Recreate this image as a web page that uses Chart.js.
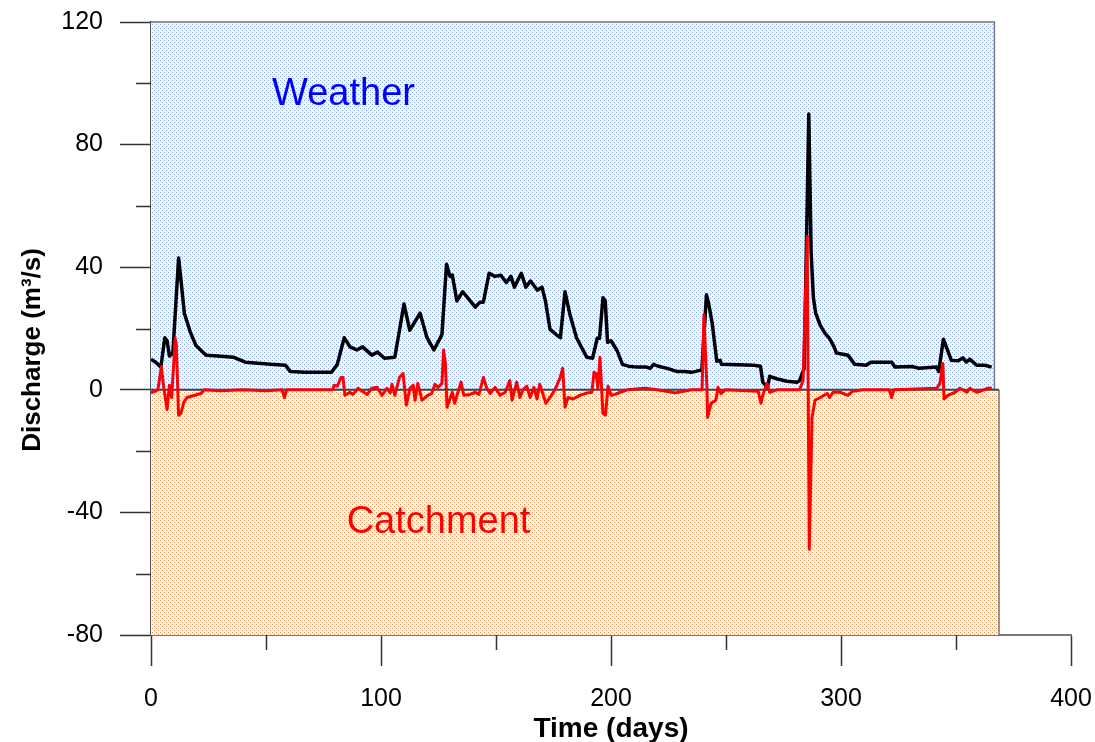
<!DOCTYPE html>
<html>
<head>
<meta charset="utf-8">
<title>Discharge</title>
<script src="https://cdn.jsdelivr.net/npm/chart.js@4.4.0/dist/chart.umd.min.js"></script>
<style>
  html, body { margin: 0; padding: 0; background: #fff; }
  canvas { display: block; }
</style>
</head>
<body>
<canvas id="myChart" width="1095" height="742"></canvas>
<script>
// weather-driven discharge (black)
const weatherDays = [0, 2, 4.3, 6, 7, 8, 9.5, 12, 13, 14.5, 17, 19.5, 22.5, 24, 29, 36, 41, 48, 52, 58.5, 60.5, 67, 78.5, 81,
  84, 86.5, 89.5, 92, 96, 98.5, 101.5, 106, 110, 112.5, 117, 120, 123, 126.5, 128.5, 130, 131, 133, 135.5, 141, 143,
  144.5, 147, 149.5, 152, 154.5, 156.5, 158, 161, 163, 165, 168, 170, 171.5, 173.5, 176.5, 178, 180, 182, 185, 189.5,
  192, 194, 195, 196.5, 197.5, 198.5, 200, 202.5, 205, 207.5, 211.5, 215.5, 217, 218.5, 220.5, 224.5, 228.5, 232, 235,
  239.5, 241.5, 242.5, 244, 246, 247.5, 248, 262, 265, 266, 268, 269, 272, 276.5, 281, 282, 284, 286, 287, 288, 289,
  291, 293, 295, 297, 298, 303, 306, 311, 313, 322, 323.5, 331, 334, 341.5, 342.5, 344.5, 348, 351, 353, 354.5, 356,
  359, 362.5, 365.5];
const weatherQ = [10, 9, 7.4, 17, 16, 11, 12, 43, 36, 25, 19, 14.5, 12.3, 11.3, 11, 10.6, 9, 8.6, 8.3, 8, 6, 5.7, 5.7, 8.3,
  17, 14, 13, 14, 11.3, 12.3, 10.3, 10.6, 28, 19.4, 25, 17, 13, 18, 41, 37, 37.4, 29, 32, 27, 28.6,
  28.6, 38, 37, 37.4, 35, 37, 33.5, 38, 33.5, 35.5, 32.5, 33.5, 29, 19.7, 17.8, 17, 32, 25, 17, 10.6,
  10.3, 16.8, 16.8, 30, 29, 15.5, 16, 13, 8.3, 7.7, 7.4, 7.4, 7, 8.3, 7.7, 7, 6, 6, 5.7,
  6.5, 31, 28, 21.7, 9.3, 9.6, 8.3, 8, 7.7, 2.5, 0.8, 4.4, 3.6, 2.8, 2.5, 3, 7, 90, 45, 30, 25,
  21, 18.5, 16.8, 14, 12, 11.3, 8.3, 8, 9, 9, 7.4, 7.6, 7, 7.4, 6, 16.5, 9.6, 9.5, 10.4, 9, 10,
  8, 8, 7.4];

// catchment response (red)
const catchDays = [0, 3, 4.5, 5.5, 7, 8, 9, 10.5, 11, 12, 13, 14.3, 15.7, 19, 21.7, 23, 30, 40, 50, 57, 58, 59, 70, 79,
  79.6, 81, 82.6, 83.5, 84.3, 86.5, 87.8, 90, 94, 96, 98.3, 100.4, 102.6, 104, 104.8, 106, 108, 109.6, 111, 112.6, 114,
  114.8, 116, 117.8, 120, 122, 123.5, 124.8, 126.5, 127.2, 128, 128.7, 131, 132, 134.8, 136, 138.7, 141, 142.6, 144.5,
  146, 147.4, 149.6, 151.7, 154, 156, 157, 159, 160.4, 161.7, 163.4, 164.8, 166.5, 167.8, 169, 171.7, 173.5, 175.6,
  177.8, 179, 180, 181.3, 183.5, 186.5, 189.6, 191.7, 192.6, 193.5, 194.3, 195.2, 196.5, 197.6, 198.7, 200, 201.7, 204,
  207, 214.8, 220, 228, 235, 239.6, 240.4, 241.7, 242, 243.5, 245.6, 246.5, 247.8, 249.6, 264, 265.2, 266, 267.8, 269,
  272, 282, 283.5, 285.3, 286.2, 287.4, 288.7, 291, 294, 295, 296.5, 299.6, 303, 305, 309.6, 321, 322, 323, 341.7, 343,
  344.3, 344.8, 346.5, 349.6, 351.7, 354.8, 356, 359, 364, 365.6];
const catchQ = [-1, 0, 7.5, 1, -6.4, 1.5, -2.5, 16.8, 15, -8.3, -7.7, -4, -2.5, -1.8, -1.2, 0, -0.3, 0, -0.3, 0, -2.5, 0, 0, 0,
  1.5, 1.2, 4, 4, -1.8, -0.8, -1.5, 0.5, -1.5, 0.5, 0.8, -1.8, 0.5, -1, 1.8, -1.8, 4, 5.3, -5, 0.5, 1.5,
  -3.4, 2.1, -3.4, -2, -1.2, 1.8, 0.8, 2.1, 13, 8.6, -5.7, -0.8, -4.4, 2.5, -1.8, -1.5, -0.8, -1.5, 4,
  0.5, -1.2, 0.8, -1.8, -0.8, 3, -3.4, 2.5, -2.5, 0, 1.2, -2.5, 0.8, -3, 1.8, -4.4, -2.5, 0,
  3.8, 7, -5.7, -2.5, -3, -1.8, -1, -0.8, 5.7, 5.3, 0.5, 10.6, -7.7, -8.3, 1.2, -1.8, -1.5, -0.8,
  0, 0.5, 0, -1, 0, 0, 24.5, 1, -9, -4.4, -3.4, 0.8, -1.2, 0, -0.5, -4.4, -1.8, 2.1, -0.8,
  0, 0, 3, 50, -52, -9, -3.4, -2.5, -1.2, -2.5, -0.8, -0.8, -1.8, -0.5, 0, 0, -2.5, 0, 0.5, 2.1,
  8.6, -3, -1.8, -0.8, 0.5, -0.8, 0.5, -0.8, 0.5, 0.5];

const yLabels = [120, 80, 40, 0, -40, -80];
const xLabels = [0, 100, 200, 300, 400];

// shaded zones (days / m3/s)
const weatherZone = { from: 0, to: 366.7, low: 0, high: 120 };
const catchZone = { from: 0, to: 368.7, low: -80, high: 0 };

const fontFamily = '"Liberation Sans", Arial, sans-serif';

function dotPattern(ctx, bg, dot) {
  const c = document.createElement('canvas');
  c.width = 4; c.height = 4;
  const g = c.getContext('2d');
  g.fillStyle = bg; g.fillRect(0, 0, 4, 4);
  g.fillStyle = dot;
  g.fillRect(0, 0, 1, 1);
  g.fillRect(2, 2, 1, 1);
  return ctx.createPattern(c, 'repeat');
}

const zonesPlugin = {
  id: 'zones',
  beforeDatasetsDraw(chart) {
    const { ctx, scales: { x, y } } = chart;
    const rect = z => [x.getPixelForValue(z.from), y.getPixelForValue(z.high),
      x.getPixelForValue(z.to) - x.getPixelForValue(z.from), y.getPixelForValue(z.low) - y.getPixelForValue(z.high)];
    ctx.save();
    const w = rect(weatherZone), c = rect(catchZone);
    ctx.fillStyle = dotPattern(ctx, '#f2f6fd', '#86abf2');
    ctx.fillRect(...w);
    ctx.fillStyle = dotPattern(ctx, '#fff5ec', '#ff9650');
    ctx.fillRect(...c);
    // outlines
    ctx.strokeStyle = '#777';
    ctx.lineWidth = 1.5;
    ctx.beginPath();
    ctx.moveTo(w[0], w[1]); ctx.lineTo(w[0] + w[2], w[1]); ctx.lineTo(w[0] + w[2], w[1] + w[3]);
    ctx.moveTo(c[0] + c[2], c[1]); ctx.lineTo(c[0] + c[2], c[1] + c[3]);
    ctx.stroke();
    // zero line
    ctx.strokeStyle = '#444';
    ctx.lineWidth = 2;
    ctx.beginPath();
    ctx.moveTo(c[0], c[1]); ctx.lineTo(c[0] + c[2], c[1]);
    ctx.stroke();
    ctx.restore();
  },
  afterDatasetsDraw(chart) {
    const { ctx, scales: { x, y } } = chart;
    ctx.save();
    ctx.font = '38px ' + fontFamily;
    ctx.textAlign = 'center';
    ctx.textBaseline = 'middle';
    ctx.fillStyle = '#0000ff';
    ctx.fillText('Weather', x.getPixelForValue(83.7), y.getPixelForValue(96.2));
    ctx.fillStyle = '#ff0000';
    ctx.fillText('Catchment', x.getPixelForValue(125), y.getPixelForValue(-43.2));
    ctx.restore();
  },
  afterDraw(chart) {
    const { ctx, scales: { x, y } } = chart;
    ctx.save();
    // short minor ticks between labelled ones
    ctx.strokeStyle = '#333';
    ctx.lineWidth = 1.5;
    ctx.beginPath();
    y.ticks.forEach(t => {
      if (yLabels.includes(t.value)) return;
      const py = Math.round(y.getPixelForValue(t.value)) + 0.5;
      ctx.moveTo(x.left - 15, py); ctx.lineTo(x.left, py);
    });
    x.ticks.forEach(t => {
      if (xLabels.includes(t.value)) return;
      const px = Math.round(x.getPixelForValue(t.value)) + 0.5;
      ctx.moveTo(px, y.bottom); ctx.lineTo(px, y.bottom + 15);
    });
    ctx.stroke();
    // y axis title, set a little below the middle of the axis
    ctx.translate(33, y.getPixelForValue(13));
    ctx.rotate(-Math.PI / 2);
    ctx.font = 'bold 26px ' + fontFamily;
    ctx.textAlign = 'center';
    ctx.textBaseline = 'middle';
    ctx.fillStyle = '#000';
    ctx.fillText('Discharge (m³/s)', 0, 0);
    ctx.restore();
  }
};

const toPoints = (xs, ys) => xs.map((d, i) => ({ x: d, y: ys[i] }));
const noEdgePadding = s => { s.paddingTop = s.paddingBottom = s.paddingLeft = s.paddingRight = 0; };

new Chart(document.getElementById('myChart'), {
  type: 'line',
  data: {
    datasets: [{
      label: 'Catchment',
      data: toPoints(catchDays, catchQ),
      borderColor: '#ff0000',
      borderWidth: 3,
      borderJoinStyle: 'round',
      pointRadius: 0,
      tension: 0
    }, {
      label: 'Weather',
      data: toPoints(weatherDays, weatherQ),
      borderColor: '#000000',
      borderWidth: 3.5,
      borderJoinStyle: 'round',
      pointRadius: 0,
      tension: 0
    }]
  },
  options: {
    responsive: false,
    animation: false,
    layout: { padding: { top: 22, right: 24, left: 0, bottom: 0 } },
    plugins: { legend: { display: false }, tooltip: { enabled: false } },
    scales: {
      x: {
        type: 'linear',
        min: 0, max: 400,
        afterFit: s => { s.height = 107; noEdgePadding(s); },
        border: { color: '#777', width: 2 },
        grid: {
          drawOnChartArea: false, tickLength: 31, tickWidth: 1.5,
          tickColor: c => xLabels.includes(c.tick.value) ? '#333' : 'rgba(0,0,0,0)'
        },
        ticks: {
          stepSize: 50, padding: 18, color: '#000', maxRotation: 0,
          font: { family: fontFamily, size: 25 },
          callback: v => xLabels.includes(v) ? String(v) : ''
        },
        title: {
          display: true, text: 'Time (days)', color: '#000',
          font: { family: fontFamily, size: 28, weight: 'bold', lineHeight: 1 },
          padding: { top: 0, bottom: -1 }
        }
      },
      y: {
        min: -80, max: 120,
        afterFit: s => { s.width = 151; noEdgePadding(s); },
        border: { color: '#555', width: 2.5 },
        grid: {
          drawOnChartArea: false, tickLength: 31, tickWidth: 1.5,
          tickColor: c => yLabels.includes(c.tick.value) ? '#333' : 'rgba(0,0,0,0)'
        },
        ticks: {
          stepSize: 20, padding: 17, color: '#000',
          font: { family: fontFamily, size: 25 },
          callback: v => yLabels.includes(v) ? String(v) : ''
        }
      }
    }
  },
  plugins: [zonesPlugin]
});
</script>
</body>
</html>
